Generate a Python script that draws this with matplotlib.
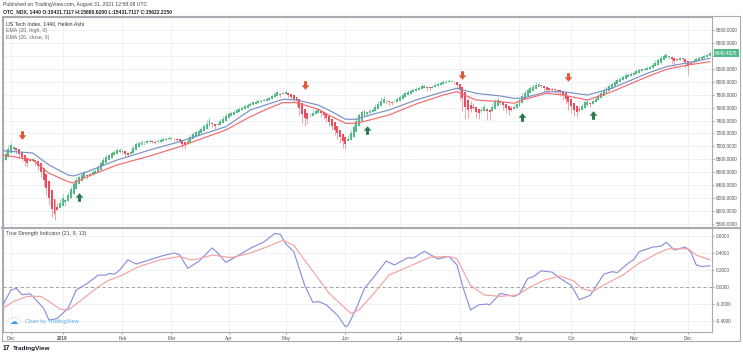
import matplotlib.pyplot as plt
from matplotlib.path import Path
from matplotlib.patches import Rectangle, Circle
from matplotlib.lines import Line2D

plt.rcParams['font.family'] = ['Liberation Sans', 'DejaVu Sans']

# Heikin Ashi close per daily bar (Nov 28 2018 .. Dec 2019)
ha_close = [
    6820, 6890, 6960, 7020, 6990, 6940, 6880, 6830, 6770, 6740,
    6780, 6800, 6770, 6700, 6600, 6480, 6350, 6200, 6030, 5960,
    6020, 6120, 6210, 6170, 6250, 6340, 6420, 6480, 6530, 6560,
    6590, 6540, 6570, 6600, 6620, 6680, 6740, 6790, 6830, 6860,
    6900, 6920, 6940, 6950, 6920, 6880, 6870, 6920, 6980, 7030,
    7060, 7070, 7060, 7080, 7090, 7070, 7060, 7080, 7100, 7110,
    7120, 7130, 7120, 7110, 7100, 7080, 7030, 7020, 7090, 7150,
    7190, 7220, 7240, 7270, 7310, 7350, 7390, 7350, 7320, 7340,
    7390, 7430, 7470, 7500, 7520, 7540, 7560, 7580, 7600, 7620,
    7640, 7660, 7680, 7690, 7700, 7710, 7720, 7740, 7750, 7780,
    7810, 7840, 7800, 7820, 7840, 7790, 7770, 7740, 7700, 7600,
    7500, 7440, 7420, 7470, 7520, 7550, 7560, 7510, 7480, 7440,
    7380, 7320, 7260, 7200, 7140, 7080, 7040, 7110, 7200, 7300,
    7400, 7480, 7530, 7550, 7530, 7550, 7570, 7610, 7660, 7710,
    7740, 7700, 7680, 7670, 7690, 7730, 7760, 7790, 7820, 7840,
    7860, 7870, 7890, 7910, 7930, 7940, 7900, 7900, 7920, 7950,
    7970, 7980, 7990, 8000, 8010, 8000, 7990, 7950, 7870, 7750,
    7610, 7560, 7580, 7600, 7540, 7510, 7560, 7610, 7550, 7530,
    7610, 7680, 7720, 7700, 7640, 7590, 7560, 7570, 7610, 7660,
    7720, 7780, 7830, 7870, 7900, 7920, 7950, 7960, 7940, 7900,
    7880, 7870, 7880, 7870, 7860, 7840, 7800, 7740, 7680, 7620,
    7570, 7540, 7560, 7620, 7680, 7690, 7660, 7700, 7740, 7780,
    7820, 7860, 7900, 7930, 7960, 7990, 8020, 8050, 8080, 8100,
    8110, 8120, 8140, 8160, 8180, 8190, 8200, 8210, 8230, 8260,
    8290, 8330, 8370, 8400, 8410, 8390, 8350, 8320, 8340, 8360,
    8350, 8300, 8250, 8280, 8320, 8350, 8370, 8380, 8400, 8420, 8440,
]
first_open = 6760

# wick lengths above / below the body (points)
wick_up = [
    40, 50, 60, 50, 10, 0, 0, 0, 0, 10,
    40, 40, 10, 0, 0, 0, 0, 0, 0, 0,
    60, 60, 50, 20, 50, 50, 40, 40, 30, 30,
    30, 10, 30, 30, 30, 40, 40, 40, 30, 30,
    30, 30, 30, 20, 10, 0, 10, 30, 40, 40,
    30, 30, 20, 30, 30, 20, 20, 30, 30, 30,
    30, 30, 20, 10, 10, 0, 0, 10, 40, 40,
    40, 30, 30, 30, 40, 60, 60, 10, 0, 20,
    40, 40, 40, 30, 30, 30, 30, 30, 30, 30,
    30, 30, 30, 30, 30, 30, 30, 30, 30, 30,
    30, 30, 10, 20, 30, 10, 0, 0, 0, 0,
    0, 0, 10, 50, 60, 40, 30, 10, 0, 0,
    0, 0, 0, 0, 0, 0, 0, 60, 60, 50,
    50, 40, 40, 30, 10, 30, 30, 40, 50, 50,
    40, 10, 0, 10, 30, 30, 30, 30, 30, 30,
    30, 30, 30, 30, 30, 30, 10, 10, 30, 30,
    30, 30, 30, 30, 30, 20, 10, 0, 0, 0,
    0, 30, 60, 60, 10, 0, 50, 50, 10, 0,
    60, 60, 50, 20, 0, 0, 0, 30, 40, 50,
    50, 50, 50, 40, 40, 40, 40, 30, 10, 0,
    0, 10, 20, 10, 0, 0, 0, 0, 0, 0,
    0, 0, 40, 50, 50, 40, 10, 40, 40, 40,
    40, 40, 40, 40, 40, 40, 40, 40, 30, 30,
    30, 30, 30, 30, 30, 30, 30, 30, 30, 30,
    40, 40, 40, 40, 30, 10, 0, 0, 30, 30,
    20, 0, 0, 40, 40, 40, 30, 30, 30, 30, 40,
]
wick_dn = [
    0, 0, 0, 0, 40, 50, 60, 60, 70, 60,
    10, 0, 50, 60, 80, 90, 100, 110, 120, 100,
    10, 0, 0, 60, 0, 0, 0, 0, 0, 0,
    0, 40, 0, 0, 0, 0, 0, 0, 0, 0,
    0, 0, 0, 10, 40, 50, 40, 0, 0, 0,
    0, 0, 20, 0, 0, 20, 20, 0, 0, 0,
    0, 0, 20, 20, 20, 30, 50, 60, 0, 0,
    0, 0, 0, 0, 0, 0, 0, 50, 50, 10,
    0, 0, 0, 0, 0, 0, 0, 0, 0, 0,
    0, 0, 0, 0, 0, 0, 0, 0, 0, 0,
    0, 0, 40, 0, 0, 40, 50, 50, 80, 120,
    150, 120, 80, 10, 0, 0, 0, 50, 50, 60,
    60, 70, 80, 90, 90, 100, 80, 0, 0, 0,
    0, 0, 0, 0, 40, 0, 0, 0, 0, 0,
    0, 50, 50, 30, 0, 0, 0, 0, 0, 0,
    0, 0, 0, 0, 0, 0, 40, 30, 0, 0,
    0, 0, 0, 0, 0, 10, 30, 60, 150, 200,
    180, 120, 40, 20, 100, 90, 20, 10, 140, 120,
    20, 0, 0, 40, 80, 80, 70, 20, 0, 0,
    0, 0, 0, 0, 0, 0, 0, 0, 40, 60,
    50, 40, 20, 40, 50, 60, 80, 90, 110, 110,
    100, 90, 30, 0, 0, 10, 50, 0, 0, 0,
    0, 0, 0, 0, 0, 0, 0, 0, 0, 0,
    0, 0, 0, 0, 0, 0, 0, 0, 0, 0,
    0, 0, 0, 0, 0, 40, 80, 90, 20, 0,
    30, 80, 150, 10, 0, 0, 0, 0, 0, 0, 0,
]

# EMA lines, read at some bars
ema_idx = [0, 11, 17, 24, 26, 31, 42, 54, 65, 82, 91, 98, 103, 108, 116, 121, 126, 130,
           135, 142, 152, 162, 167, 174, 183, 188, 191, 200, 206, 215, 224, 237, 244, 252, 260]
ema_high = [6934, 6898, 6713, 6558, 6543, 6609, 6790, 6945, 7073, 7305, 7563, 7660, 7729,
            7718, 7640, 7537, 7420, 7420, 7486, 7563, 7718, 7846, 7899, 7821, 7780, 7744,
            7744, 7846, 7846, 7795, 7899, 8131, 8233, 8294, 8362]
ema_close = [6868, 6790, 6585, 6455, 6435, 6532, 6713, 6852, 6996, 7254, 7460, 7594, 7677,
             7677, 7574, 7460, 7358, 7358, 7409, 7486, 7656, 7795, 7846, 7718, 7692, 7667,
             7718, 7821, 7795, 7718, 7846, 8078, 8192, 8259, 8310]

# TSI (21, 9, 13)
tsi_idx = [0, 3, 5, 7, 10, 11, 15, 17, 20, 24, 27, 31, 35, 38, 39, 41, 43, 46, 49, 54,
           59, 63, 65, 68, 72, 77, 79, 82, 86, 91, 96, 100, 102, 104, 107, 111, 114, 116,
           119, 123, 126, 127, 130, 133, 136, 141, 144, 149, 151, 155, 160, 164, 167, 169,
           172, 175, 178, 179, 183, 185, 188, 190, 193, 195, 198, 202, 205, 209, 210, 212,
           215, 216, 221, 224, 226, 230, 232, 234, 239, 242, 244, 247, 251, 253, 255, 257, 260]
tsi_val = [-0.21, -0.035, -0.016, -0.09, -0.08, -0.11, -0.25, -0.39, -0.37, -0.25,
           -0.035, 0.04, 0.14, 0.14, 0.16, 0.15, 0.2, 0.32, 0.27, 0.32,
           0.37, 0.40, 0.38, 0.22, 0.30, 0.46, 0.40, 0.29, 0.36, 0.455,
           0.53, 0.63, 0.62, 0.51, 0.415, 0.02, -0.18, -0.17, -0.21, -0.33,
           -0.467, -0.45, -0.25, -0.016, 0.1, 0.306, 0.26, 0.345, 0.34, 0.42,
           0.33, 0.36, 0.26, 0.02, -0.27, -0.21, -0.2, -0.21, -0.075, -0.09,
           -0.11, -0.08, 0.1, 0.12, 0.19, 0.175, 0.1, 0.02, -0.035, -0.15,
           -0.11, -0.1, 0.15, 0.18, 0.17, 0.28, 0.32, 0.415, 0.47, 0.48,
           0.525, 0.435, 0.47, 0.41, 0.26, 0.24, 0.25]
sig_idx = [0, 4, 9, 14, 17, 21, 24, 27, 35, 39, 44, 50, 58, 65, 69, 72, 77, 84, 91, 97,
           103, 107, 116, 120, 128, 131, 137, 142, 150, 157, 164, 167, 172, 177, 183, 189,
           194, 199, 205, 210, 213, 217, 222, 228, 234, 241, 245, 252, 255, 260]
sig_val = [-0.25, -0.17, -0.11, -0.11, -0.17, -0.26, -0.27, -0.2, 0.0, 0.08,
           0.14, 0.24, 0.32, 0.36, 0.32, 0.33, 0.376, 0.345, 0.40, 0.47,
           0.55, 0.49, 0.1, -0.075, -0.31, -0.27, -0.055, 0.14, 0.25, 0.35,
           0.36, 0.33, 0.02, -0.094, -0.11, -0.094, 0.0, 0.08, 0.13, 0.07,
           -0.02, -0.05, 0.04, 0.14, 0.28, 0.40, 0.45, 0.45, 0.376, 0.32]

# signal arrows
sell_idx = [7, 111, 169, 208]
sell_px = [7177, 7950, 8104, 8078]
buy_idx = [28, 134, 191, 217]
buy_px = [6223, 7254, 7460, 7486]

month_idx = [3, 22, 44, 62, 83, 104, 126, 146, 168, 190, 209, 232, 252]
month_lbl = ['Dec', '2019', 'Feb', 'Mar', 'Apr', 'May', 'Jun', 'Jul', 'Aug', 'Sep', 'Oct', 'Nov', 'Dec']
price_ticks = list(range(5800, 9000, 200))
tsi_ticks = [-0.4, -0.2, 0.0, 0.2, 0.4, 0.6]
last_price = 8440.4925

W, H = 743, 356
UP, DN = '#53b987', '#eb4d5c'
GRID = '#eef1f5'
EDGE = '#a9abb0'
TICK_FS = 3.4

fig = plt.figure(figsize=(W / 100, H / 100), dpi=100)


def px_axes(x0, y0, x1, y1):
    return fig.add_axes([x0 / W, 1 - y1 / H, (x1 - x0) / W, (y1 - y0) / H])


def ftext(x, y, s, **kw):
    fig.text(x / W, 1 - y / H, s, va='center', **kw)


ax = px_axes(3, 17, 712, 228)
ax2 = px_axes(3, 228, 712, 332)
xmin, xmax = 0.06, 260.8

# heikin ashi open: average of previous bar's open and close
ha_open = [first_open]
for k in range(1, len(ha_close)):
    ha_open.append((ha_open[-1] + ha_close[k - 1]) / 2)

xs = list(range(len(ha_close)))
bottoms, heights, cols, wcols, hi, lo = [], [], [], [], [], []
for o, c, u, d in zip(ha_open, ha_close, wick_up, wick_dn):
    bottoms.append(min(o, c))
    heights.append(max(abs(c - o), 10))
    up = c >= o
    cols.append(UP if up else DN)
    wcols.append('#9fd8bb' if up else '#f5a3ab')
    hi.append(max(o, c) + u)
    lo.append(min(o, c) - d)

ax.vlines(xs, lo, hi, colors=wcols, lw=0.7, zorder=2)
ax.bar(xs, heights, bottom=bottoms, width=0.72, color=cols, lw=0, zorder=3)
ax.plot(ema_idx, ema_high, color='#7d8fc4', lw=0.85, zorder=4)
ax.plot(ema_idx, ema_close, color='#f26a6e', lw=0.85, zorder=4)

down_arrow = Path([(-0.35, 1), (0.35, 1), (0.35, 0.05), (0.9, 0.05), (0, -1),
                   (-0.9, 0.05), (-0.35, 0.05), (-0.35, 1)])
up_arrow = Path([(x, -y) for x, y in down_arrow.vertices])
ax.scatter(sell_idx, sell_px, marker=down_arrow, s=38, color='#e0593d', lw=0, zorder=5)
ax.scatter(buy_idx, buy_px, marker=up_arrow, s=38, color='#2a7a4e', lw=0, zorder=5)

ax.set_xlim(xmin, xmax)
ax.set_ylim(5739, 9001)
ax.set_yticks(price_ticks)
# the 8400 label sits under the last-price tag
ax.set_yticklabels(['' if v == 8400 else f'{v:.4f}' for v in price_ticks])
ax.set_xticks(month_idx)
ax.tick_params(axis='x', length=0, labelbottom=False)

# TSI panel
ax2.plot(tsi_idx, tsi_val, color='#8c8fdc', lw=0.85, zorder=3)
ax2.plot(sig_idx, sig_val, color='#f6a2a2', lw=0.85, zorder=3)
ax2.axhline(0, color='#a0a0a0', lw=0.7, ls=(0, (3, 3)), zorder=2)
ax2.set_xlim(xmin, xmax)
ax2.set_ylim(-0.529, 0.694)
ax2.set_yticks(tsi_ticks)
ax2.set_yticklabels([f'{v:.4f}' for v in tsi_ticks])
ax2.set_xticks(month_idx)
ax2.set_xticklabels(month_lbl)
for lab in ax2.get_xticklabels():
    if lab.get_text() == '2019':
        lab.set_fontweight('bold')
ax2.tick_params(axis='x', length=1.5, pad=1.5, labelsize=TICK_FS, labelcolor='#555555', color=EDGE)

for a in (ax, ax2):
    a.grid(True, color=GRID, lw=0.7)
    a.set_axisbelow(True)
    a.yaxis.tick_right()
    a.tick_params(axis='y', length=1.5, pad=1.5, labelsize=TICK_FS, labelcolor='#555555', color=EDGE)
    for sp in a.spines.values():
        sp.set_color(EDGE)
        sp.set_linewidth(0.8)
ax.spines['bottom'].set_visible(False)
ax2.spines['top'].set_visible(False)

# last price tag
ax.annotate(f'{last_price:.4f}', xy=(1.0, last_price), xycoords=('axes fraction', 'data'),
            xytext=(2.2, 0), textcoords='offset points', va='center', ha='left',
            fontsize=TICK_FS, color='white', annotation_clip=False, zorder=10,
            bbox=dict(boxstyle='square,pad=0.3', fc=UP, ec='none'))

# outer frame and panel separator
fig.add_artist(Rectangle((2 / W, 1 - 341 / H), 738 / W, 325 / H, transform=fig.transFigure,
                         fill=False, ec=EDGE, lw=0.8))
fig.add_artist(Line2D([2 / W, 740 / W], [1 - 228 / H] * 2, transform=fig.transFigure,
                      color=EDGE, lw=1.5))

ftext(3, 4.5, 'Published on TradingView.com, August 31, 2021 12:58:08 UTC', fontsize=3.7, color='#444444')
ftext(3, 11.8, 'OTC_NDX, 1440 O:15431.7117 H:15680.6200 L:15431.7117 C:15622.2150',
      fontsize=3.6, color='#222222', fontweight='bold')
ftext(6, 24, 'US Tech Index, 1440, Heikin Ashi', fontsize=3.8, color='#333333')
ftext(6, 30.7, 'EMA (20, high, 0)', fontsize=3.8, color='#666666')
ftext(6, 37.4, 'EMA (20, close, 0)', fontsize=3.8, color='#666666')
ftext(6, 234, 'True Strength Indicator (21, 9, 13)', fontsize=3.8, color='#444444')

# watermark
fig.add_artist(Circle((14 / W, 1 - 321 / H), 6.5 / W, transform=fig.transFigure,
                      fc='white', ec='#e3e6ea', lw=0.6))
ftext(14, 321, '\u2601', ha='center', fontsize=6, color='#3ba0e6', family=['DejaVu Sans'])
ftext(25, 321, 'Chart by TradingView', fontsize=4.1, color='#5aaee8')

ftext(3, 348.5, '17', fontsize=4.8, color='#131722', fontweight='bold')
ftext(13, 348.5, 'TradingView', fontsize=4.6, color='#131722', fontweight='bold')

fig.savefig('out.png', dpi=100)
